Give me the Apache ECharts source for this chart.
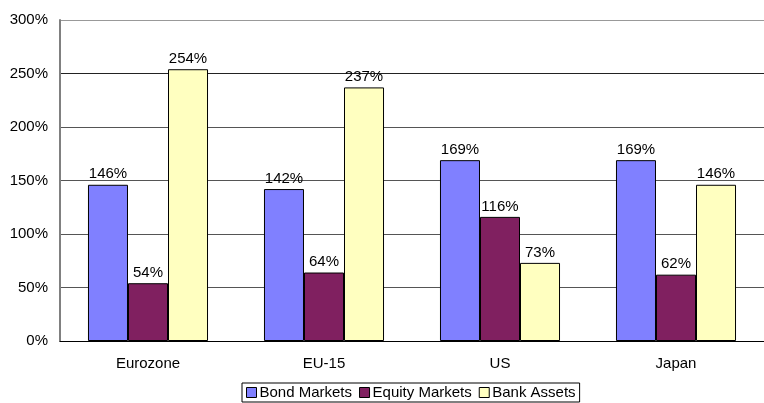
<!DOCTYPE html>
<html>
<head>
<meta charset="utf-8">
<script src="https://cdn.jsdelivr.net/npm/echarts@6/dist/echarts.min.js"></script>
<style>
  html, body { margin: 0; padding: 0; background: #fff; }
  #chart { width: 764px; height: 403px; }
</style>
</head>
<body>
<div id="chart"></div>
<script>
const regions = ['Eurozone', 'EU-15', 'US', 'Japan'];
const bondMarkets = [146, 142, 169, 169];
const equityMarkets = [54, 64, 116, 62];
const bankAssets = [254, 237, 73, 146];

const font = 'Liberation Sans, Arial, sans-serif';
const fs = 15;

function makeSeries(name, data, color) {
    return {
        name: name,
        type: 'bar',
        data: data,
        barGap: '0%',
        barCategoryGap: '31.8%',
        itemStyle: { color: color, borderColor: '#000', borderWidth: 1 },
        label: {
            show: true,
            position: 'top',
            distance: 3,
            formatter: '{c}%',
            color: '#000',
            fontFamily: font,
            fontSize: fs
        }
    };
}

const chart = echarts.init(document.getElementById('chart'));
chart.setOption({
    animation: false,
    textStyle: { fontFamily: font },
    grid: { left: 60, right: 0, top: 20, bottom: 62, containLabel: false },
    legend: {
        top: 383,
        left: 242,
        itemWidth: 10,
        itemHeight: 10,
        itemGap: 7,
        icon: 'rect',
        borderColor: '#000',
        borderWidth: 1,
        borderRadius: 0,
        padding: [2, 4, 2, 4],
        textStyle: { fontFamily: font, fontSize: fs, color: '#000', padding: [0, 0, 0, -2] },
        itemStyle: { borderColor: '#000', borderWidth: 1 }
    },
    xAxis: {
        type: 'category',
        data: regions,
        axisTick: { show: false },
        axisLine: { lineStyle: { color: '#000', width: 1 } },
        axisLabel: { color: '#000', fontSize: fs, fontFamily: font, margin: 15 }
    },
    yAxis: {
        type: 'value',
        min: 0,
        max: 300,
        interval: 50,
        axisLine: { show: true, lineStyle: { color: '#808080', width: 2 } },
        axisTick: { show: false },
        axisLabel: { color: '#000', fontSize: fs, fontFamily: font, margin: 12, formatter: '{value}%' },
        splitLine: {
            lineStyle: {
                color: ['#000', '#555', '#555', '#555', '#555', '#222', '#999'],
                width: 1
            }
        }
    },
    series: [
        makeSeries('Bond Markets', bondMarkets, '#8080FF'),
        makeSeries('Equity Markets', equityMarkets, '#802060'),
        makeSeries('Bank Assets', bankAssets, '#FFFFC0')
    ]
});
</script>
</body>
</html>
